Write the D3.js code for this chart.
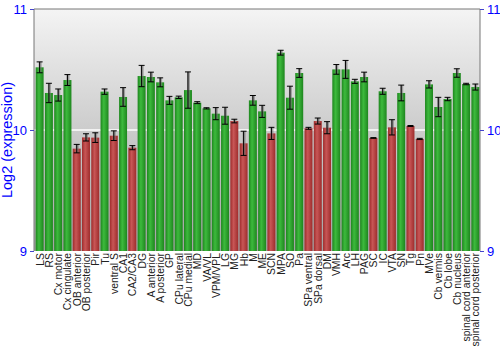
<!DOCTYPE html>
<html><head><meta charset="utf-8">
<script src="https://cdn.jsdelivr.net/npm/d3@7/dist/d3.min.js"></script>
<style>body{margin:0;background:#fff}svg{display:block}</style>
</head><body>
<svg id="c" width="500" height="350"></svg>
<script>
const categories = ["LS","RS","Cx motor","Cx cingulate","OB anterior","OB posterior","Pir","Tu","ventral S","CA1","CA2/CA3","DG","A anterior","A posterior","GP","CPu lateral","CPu medial","MD","VA/VL","VPM/VPL","LG","MG","Hb","M","ME","SCN","MPA","SO","Pa","SPa ventral","SPa dorsal","DM","VMH","Arc","LH","PAG","SC","IC","VTA","SN","Tg","Pn","MVe","Cb vermis","Cb lobe","Cb nucleus","spinal cord anterior","spinal cord posterior"];
const values = [10.518,10.306,10.289,10.413,9.846,9.939,9.937,10.317,9.953,10.273,9.854,10.446,10.438,10.394,10.245,10.27,10.33,10.226,10.179,10.135,10.118,10.074,9.89,10.245,10.154,9.972,10.639,10.267,10.471,10.014,10.074,10.019,10.501,10.501,10.402,10.438,9.934,10.32,10.022,10.306,10.033,9.926,10.377,10.19,10.256,10.471,10.38,10.355];
const errors = [0.045,0.08,0.05,0.045,0.035,0.03,0.04,0.022,0.04,0.077,0.017,0.088,0.04,0.037,0.033,0.01,0.15,0.008,0.005,0.05,0.07,0.015,0.1,0.04,0.05,0.05,0.02,0.095,0.036,0.008,0.025,0.05,0.04,0.074,0.017,0.04,0.003,0.025,0.063,0.065,0.004,0.005,0.03,0.08,0.014,0.035,0.006,0.025];
const groups = ["g","g","g","g","r","r","r","g","r","g","r","g","g","g","g","g","g","g","g","g","g","r","r","g","g","r","g","g","g","r","r","r","g","g","g","g","r","g","r","g","r","r","g","g","g","g","g","g"];
const yTicks = [9,10,11];
const yTitle = "Log2 (expression)";

const svg = d3.select("#c");
const m = {l:34, r:20, t:9, b:99};
const W = 500, H = 350;
const x = d3.scaleBand().domain(categories).range([m.l+1, W-m.r]).paddingInner(0.14).paddingOuter(0.07);
const y = d3.scaleLinear().domain([9,11]).range([H-m.b, m.t]);

const defs = svg.append("defs");
const bg = defs.append("linearGradient").attr("id","bg").attr("x1",0).attr("y1",0).attr("x2",0).attr("y2",1);
bg.append("stop").attr("offset","0%").attr("stop-color","#f4f4f4");
bg.append("stop").attr("offset","100%").attr("stop-color","#a4a4a4");
function hg(id, edge, mid){
  const g = defs.append("linearGradient").attr("id",id).attr("x1",0).attr("y1",0).attr("x2",1).attr("y2",0);
  g.append("stop").attr("offset","0%").attr("stop-color",edge);
  g.append("stop").attr("offset","40%").attr("stop-color",mid);
  g.append("stop").attr("offset","100%").attr("stop-color",edge);
}
hg("gg","#1e861e","#3dba3d");
hg("gr","#9e2c2c","#c85656");

const x0 = m.l, x1 = W-m.r, yT = y(11), yB = y(9);
svg.append("rect").attr("x",x0).attr("y",yT).attr("width",x1-x0).attr("height",yB-yT).attr("fill","url(#bg)");
svg.append("line").attr("x1",x0).attr("x2",x1).attr("y1",y(10)).attr("y2",y(10)).attr("stroke","#fff").attr("stroke-width",1.5);

// bars
svg.append("g").selectAll("rect").data(categories).join("rect")
  .attr("x",d=>x(d)).attr("width",x.bandwidth())
  .attr("y",(d,i)=>y(values[i])).attr("height",(d,i)=>yB-y(values[i]))
  .attr("fill",(d,i)=>groups[i]==="g"?"url(#gg)":"url(#gr)");

// error bars
const eg = svg.append("g");
categories.forEach((c,i)=>{
  const cx = x(c)+x.bandwidth()/2;
  const ya = y(values[i]+errors[i]), yb = y(values[i]-errors[i]);
  eg.append("line").attr("x1",cx+0.5).attr("x2",cx+0.5).attr("y1",ya).attr("y2",yb).attr("stroke","#777").attr("stroke-opacity",0.6).attr("stroke-width",3);
  eg.append("line").attr("x1",cx).attr("x2",cx).attr("y1",ya).attr("y2",yb).attr("stroke","#000").attr("stroke-width",1);
  [ya,yb].forEach(yy=>{
    eg.append("line").attr("x1",cx-3).attr("x2",cx+3).attr("y1",yy).attr("y2",yy).attr("stroke","#000").attr("stroke-width",1);
  });
});

// frame
svg.append("path").attr("d",`M${x0},${yB}V${yT}H${x1}V${yB}`).attr("fill","none").attr("stroke","#777").attr("stroke-width",1);

// axes
const yl = svg.append("g").attr("transform",`translate(${x0},0)`).call(d3.axisLeft(y).tickValues(yTicks).tickFormat(d3.format("d")).tickSize(4));
const yr = svg.append("g").attr("transform",`translate(${x1},0)`).call(d3.axisRight(y).tickValues(yTicks).tickFormat(d3.format("d")).tickSize(4));
[yl,yr].forEach(a=>{
  a.select(".domain").remove();
  a.selectAll(".tick line").attr("stroke","#4444cc");
  a.selectAll("text").attr("fill","#0000ff").style("font-family","Liberation Sans, Arial, sans-serif").style("font-size","13px");
});

// x labels
svg.append("g").selectAll("text").data(categories).join("text")
  .attr("transform",d=>`translate(${x(d)+x.bandwidth()/2+4},${yB+2}) rotate(-90)`)
  .attr("text-anchor","end")
  .style("font-family","Liberation Sans, Arial, sans-serif").style("font-size","10.4px").attr("fill","#222")
  .text(d=>d);

svg.append("text").attr("transform",`translate(12,${(yT+yB)/2+10}) rotate(-90)`)
  .attr("text-anchor","middle").attr("fill","#0000ff")
  .style("font-family","Liberation Sans, Arial, sans-serif").style("font-size","14.5px")
  .text(yTitle);
</script>
</body></html>
